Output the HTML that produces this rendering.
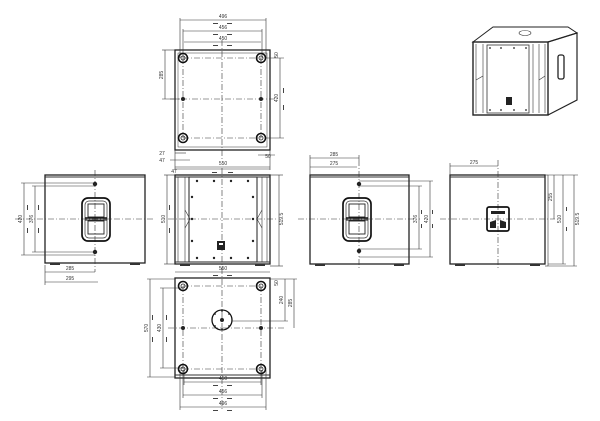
<!DOCTYPE html>
<html><head><meta charset="utf-8"><style>
html,body{margin:0;padding:0;background:#fff;}
svg{display:block}
text{font-family:"Liberation Sans",sans-serif;font-size:5px;fill:#333}
</style></head><body>
<svg width="600" height="421" viewBox="0 0 600 421" xmlns="http://www.w3.org/2000/svg">
<defs>
<g id="hole"><circle r="4.5" fill="none" stroke="#111" stroke-width="1.6"/><circle r="2" fill="none" stroke="#222" stroke-width="0.8"/></g>
<g id="handle">
<rect x="-14" y="-21" width="28" height="43" rx="6" fill="none" stroke="#111" stroke-width="1.7"/>
<rect x="-11" y="-18" width="22" height="37" rx="4" fill="none" stroke="#333" stroke-width="0.7"/>
<rect x="-8" y="-15" width="16" height="13" fill="none" stroke="#222" stroke-width="0.9"/>
<rect x="-8" y="2" width="16" height="13" fill="none" stroke="#222" stroke-width="0.9"/>
<line x1="-11" y1="-1" x2="11" y2="-1" stroke="#111" stroke-width="1.5"/>
<line x1="-11" y1="1" x2="11" y2="1" stroke="#111" stroke-width="1"/>
</g>
</defs>
<g fill="none" stroke="#333" stroke-width="0.6">

<!-- TOP VIEW -->
<rect x="175" y="50" width="95" height="100" stroke-width="1.3" stroke="#222"/>
<rect x="178" y="53" width="89" height="94" stroke-width="0.5"/>
<line x1="222" y1="40" x2="222" y2="160" stroke-dasharray="6,2,1,2"/>
<line x1="170" y1="99" x2="275" y2="99" stroke-dasharray="6,2,1,2"/>
<line x1="183" y1="58" x2="261" y2="58" stroke-dasharray="6,2,1,2"/>
<line x1="183" y1="138" x2="261" y2="138" stroke-dasharray="6,2,1,2"/>
<line x1="183" y1="58" x2="183" y2="138" stroke-dasharray="6,2,1,2"/>
<line x1="261" y1="58" x2="261" y2="138" stroke-dasharray="6,2,1,2"/>
<line x1="180" y1="20" x2="266" y2="20"/><line x1="180" y1="18" x2="180" y2="58"/><line x1="266" y1="18" x2="266" y2="58"/>
<line x1="183" y1="31" x2="262" y2="31"/><line x1="183" y1="29" x2="183" y2="58"/><line x1="262" y1="29" x2="262" y2="58"/>
<line x1="184" y1="42" x2="261" y2="42"/>
<line x1="165" y1="50" x2="165" y2="99"/><line x1="162" y1="50" x2="175" y2="50"/><line x1="162" y1="99" x2="180" y2="99"/>
<line x1="280" y1="58" x2="280" y2="138"/><line x1="265" y1="58" x2="284" y2="58"/><line x1="265" y1="138" x2="284" y2="138"/>
<line x1="175" y1="167" x2="270" y2="167"/><line x1="175" y1="150" x2="175" y2="170"/><line x1="270" y1="150" x2="270" y2="170"/>
<line x1="175" y1="153" x2="186" y2="153"/><line x1="170" y1="160" x2="190" y2="160"/>
<line x1="258" y1="155" x2="275" y2="155"/>

<!-- FRONT VIEW LEFT -->
<rect x="45" y="175" width="100" height="88" stroke-width="1.3" stroke="#222"/>
<line x1="45" y1="177" x2="145" y2="177" stroke-width="1"/>
<line x1="95" y1="170" x2="95" y2="272" stroke-dasharray="6,2,1,2"/>
<line x1="15" y1="219" x2="155" y2="219" stroke-dasharray="6,2,1,2"/>
<line x1="24" y1="183" x2="24" y2="255"/><line x1="21" y1="183" x2="95" y2="183"/><line x1="21" y1="255" x2="95" y2="255"/>
<line x1="35" y1="186" x2="35" y2="252"/><line x1="32" y1="186" x2="95" y2="186"/><line x1="32" y1="252" x2="95" y2="252"/>
<line x1="45" y1="272" x2="95" y2="272"/><line x1="45" y1="265" x2="45" y2="285"/>
<line x1="45" y1="282" x2="98" y2="282"/>

<!-- SIDE VIEW MIDDLE -->
<rect x="175" y="175" width="95" height="89" stroke-width="1.3" stroke="#222"/>
<line x1="175" y1="177" x2="270" y2="177" stroke-width="1"/>
<line x1="175" y1="262" x2="270" y2="262" stroke-width="1"/>
<line x1="178" y1="177" x2="178" y2="262"/><line x1="185" y1="177" x2="185" y2="262"/>
<rect x="189" y="177" width="68" height="85" stroke-width="1.1"/>
<line x1="262" y1="177" x2="262" y2="262"/><line x1="267" y1="177" x2="267" y2="262"/>
<line x1="222" y1="168" x2="222" y2="270" stroke-dasharray="6,2,1,2"/>
<line x1="168" y1="219" x2="278" y2="219" stroke-dasharray="6,2,1,2"/>
<line x1="167" y1="175" x2="167" y2="264"/><line x1="164" y1="175" x2="175" y2="175"/><line x1="164" y1="264" x2="175" y2="264"/>
<line x1="279" y1="175" x2="279" y2="266"/><line x1="270" y1="175" x2="283" y2="175"/><line x1="270" y1="266" x2="283" y2="266"/>
<line x1="175" y1="169" x2="270" y2="169"/>
<path d="M185 210 L190 219 L185 228 M262 210 L257 219 L262 228"/>

<!-- RIGHT SIDE VIEW -->
<rect x="310" y="175" width="99" height="89" stroke-width="1.3" stroke="#222"/>
<line x1="310" y1="177" x2="409" y2="177" stroke-width="1"/>
<line x1="359" y1="160" x2="359" y2="270" stroke-dasharray="6,2,1,2"/>
<line x1="298" y1="219" x2="420" y2="219" stroke-dasharray="6,2,1,2"/>
<line x1="310" y1="158" x2="359" y2="158"/><line x1="310" y1="155" x2="310" y2="175"/><line x1="359" y1="155" x2="359" y2="160"/>
<line x1="310" y1="167" x2="357" y2="167"/>
<line x1="419" y1="186" x2="419" y2="249"/><line x1="359" y1="186" x2="422" y2="186"/><line x1="359" y1="249" x2="422" y2="249"/>
<line x1="430" y1="181" x2="430" y2="257"/><line x1="359" y1="181" x2="433" y2="181"/><line x1="359" y1="257" x2="433" y2="257"/>

<!-- BACK VIEW -->
<rect x="450" y="175" width="95" height="89" stroke-width="1.3" stroke="#222"/>
<line x1="450" y1="177" x2="545" y2="177" stroke-width="1"/>
<line x1="545" y1="175" x2="548" y2="175"/><line x1="548" y1="175" x2="548" y2="266"/><line x1="545" y1="266" x2="548" y2="266"/>
<line x1="498" y1="160" x2="498" y2="270" stroke-dasharray="6,2,1,2"/>
<line x1="440" y1="219" x2="555" y2="219" stroke-dasharray="6,2,1,2"/>
<line x1="450" y1="166" x2="498" y2="166"/><line x1="450" y1="163" x2="450" y2="175"/>
<line x1="554" y1="175" x2="554" y2="219"/><line x1="548" y1="175" x2="578" y2="175"/>
<line x1="563" y1="175" x2="563" y2="264"/><line x1="548" y1="264" x2="566" y2="264"/>
<line x1="574" y1="175" x2="574" y2="266"/><line x1="548" y1="266" x2="577" y2="266"/>
<rect x="487" y="207" width="22" height="24" rx="2" stroke="#111" stroke-width="1.7"/>

<!-- BOTTOM VIEW -->
<rect x="175" y="278" width="95" height="100" stroke-width="1.3" stroke="#222"/>
<line x1="175" y1="375" x2="270" y2="375" stroke-width="1"/>
<line x1="222" y1="268" x2="222" y2="410" stroke-dasharray="6,2,1,2"/>
<line x1="168" y1="328" x2="285" y2="328" stroke-dasharray="6,2,1,2"/>
<line x1="183" y1="286" x2="261" y2="286" stroke-dasharray="6,2,1,2"/>
<line x1="183" y1="369" x2="261" y2="369" stroke-dasharray="6,2,1,2"/>
<line x1="183" y1="286" x2="183" y2="369" stroke-dasharray="6,2,1,2"/>
<line x1="261" y1="286" x2="261" y2="369" stroke-dasharray="6,2,1,2"/>
<circle cx="222" cy="320" r="10" stroke="#111" stroke-width="1.3"/>
<line x1="175" y1="272" x2="270" y2="272"/>
<line x1="150" y1="279" x2="150" y2="377"/><line x1="147" y1="279" x2="175" y2="279"/><line x1="147" y1="377" x2="175" y2="377"/>
<line x1="163" y1="288" x2="163" y2="368"/><line x1="160" y1="288" x2="183" y2="288"/><line x1="160" y1="368" x2="183" y2="368"/>
<line x1="285" y1="279" x2="285" y2="321"/><line x1="232" y1="321" x2="288" y2="321"/>
<line x1="294" y1="279" x2="294" y2="328"/><line x1="270" y1="279" x2="297" y2="279"/>
<line x1="184" y1="382" x2="261" y2="382"/><line x1="184" y1="370" x2="184" y2="385"/><line x1="261" y1="370" x2="261" y2="385"/>
<line x1="183" y1="395" x2="262" y2="395"/><line x1="183" y1="370" x2="183" y2="398"/><line x1="262" y1="370" x2="262" y2="398"/>
<line x1="180" y1="407" x2="266" y2="407"/><line x1="180" y1="370" x2="180" y2="410"/><line x1="266" y1="370" x2="266" y2="410"/>

<!-- 3D VIEW -->
<path d="M473 42 L493 27 L568 27 L577 33 L548 42 Z" stroke-width="1" stroke="#222"/>
<rect x="473" y="42" width="75" height="73" stroke-width="1.4" stroke="#222"/>
<path d="M548 42 L577 33 L577 100 L548 115" stroke-width="1.2" stroke="#222"/>
<rect x="487" y="45" width="42" height="68" stroke-width="0.8"/>
<line x1="476" y1="44" x2="476" y2="113"/><line x1="483" y1="44" x2="483" y2="113"/>
<line x1="533" y1="44" x2="533" y2="113"/><line x1="539" y1="44" x2="539" y2="113"/><line x1="545" y1="44" x2="545" y2="113"/>
<line x1="476" y1="80" x2="483" y2="76"/><line x1="539" y1="80" x2="545" y2="76"/>
<ellipse cx="525" cy="33" rx="6" ry="2.5"/>
<rect x="558" y="55" width="6" height="24" rx="2" stroke-width="1.3" stroke="#222"/>
</g>

<!-- holes -->
<use href="#hole" x="183" y="58"/><use href="#hole" x="261" y="58"/>
<use href="#hole" x="183" y="138"/><use href="#hole" x="261" y="138"/>
<circle cx="183" cy="99" r="2" fill="#222"/><circle cx="261" cy="99" r="2" fill="#222"/>
<use href="#hole" x="183" y="286"/><use href="#hole" x="261" y="286"/>
<use href="#hole" x="183" y="369"/><use href="#hole" x="261" y="369"/>
<circle cx="183" cy="328" r="2" fill="#222"/><circle cx="261" cy="328" r="2" fill="#222"/>
<circle cx="222" cy="320" r="2" fill="#222"/>
<g fill="#222"><circle cx="215" cy="314" r="0.9"/><circle cx="229" cy="314" r="0.9"/><circle cx="215" cy="326" r="0.9"/><circle cx="229" cy="326" r="0.9"/><circle cx="222" cy="311" r="0.9"/><circle cx="222" cy="329" r="0.9"/></g>
<use href="#handle" x="96" y="219"/><use href="#handle" x="357" y="219"/>
<circle cx="95" cy="184" r="2.2" fill="#222"/><circle cx="95" cy="252" r="2.2" fill="#222"/>
<circle cx="359" cy="184" r="2.2" fill="#222"/><circle cx="359" cy="251" r="2.2" fill="#222"/>
<!-- middle dots -->
<g fill="#222">
<circle cx="197" cy="181" r="1.2"/><circle cx="214" cy="181" r="1.2"/><circle cx="231" cy="181" r="1.2"/><circle cx="248" cy="181" r="1.2"/>
<circle cx="197" cy="258" r="1.2"/><circle cx="214" cy="258" r="1.2"/><circle cx="231" cy="258" r="1.2"/><circle cx="248" cy="258" r="1.2"/>
<circle cx="192" cy="197" r="1.2"/><circle cx="192" cy="219" r="1.2"/><circle cx="192" cy="241" r="1.2"/>
<circle cx="253" cy="197" r="1.2"/><circle cx="253" cy="219" r="1.2"/><circle cx="253" cy="241" r="1.2"/>
<rect x="217" y="241" width="8" height="9"/>
<rect x="506" y="97" width="6" height="8"/>
<circle cx="490" cy="48" r="0.9"/><circle cx="501" cy="48" r="0.9"/><circle cx="514" cy="48" r="0.9"/><circle cx="526" cy="48" r="0.9"/>
<circle cx="490" cy="110" r="0.9"/><circle cx="501" cy="110" r="0.9"/><circle cx="514" cy="110" r="0.9"/><circle cx="526" cy="110" r="0.9"/>
</g>
<rect x="219" y="243" width="4" height="2" fill="#fff"/>
<!-- back panel -->
<rect x="491" y="211" width="14" height="3" fill="#222"/>
<path d="M490 222 L496 220 L496 228 L490 228Z M506 222 L500 220 L500 228 L506 228Z" fill="#222"/>
<!-- feet -->
<g fill="#333">
<rect x="50" y="263" width="10" height="2"/><rect x="130" y="263" width="10" height="2"/>
<rect x="180" y="264" width="10" height="2"/><rect x="255" y="264" width="10" height="2"/>
<rect x="315" y="264" width="10" height="2"/><rect x="394" y="264" width="10" height="2"/>
<rect x="455" y="264" width="10" height="2"/><rect x="530" y="264" width="10" height="2"/>
</g>

<!-- labels -->
<g text-anchor="middle">
<text x="223" y="18">496</text><text x="223" y="29">456</text><text x="223" y="40">450</text>
<text x="223" y="165">550</text>
<text x="223" y="270">550</text>
<text x="223" y="380">450</text><text x="223" y="393">456</text><text x="223" y="405">496</text>
<text x="70" y="270">285</text><text x="70" y="280">295</text>
<text x="334" y="156">285</text><text x="334" y="165">275</text>
<text x="474" y="164">275</text>
<text x="174" y="173" font-size="4">47</text>
<text x="162" y="155" font-size="4">27</text><text x="162" y="162" font-size="4">47</text>
<text x="268" y="158" font-size="4">50</text>
</g>
<g text-anchor="middle" font-size="5">
<text transform="translate(163 75) rotate(-90)">285</text>
<text transform="translate(278 98) rotate(-90)">420</text>
<text transform="translate(278 55) rotate(-90)">50</text>
<text transform="translate(22 219) rotate(-90)">420</text>
<text transform="translate(33 219) rotate(-90)">376</text>
<text transform="translate(165 219) rotate(-90)">510</text>
<text transform="translate(283 219) rotate(-90)">519.5</text>
<text transform="translate(417 219) rotate(-90)">376</text>
<text transform="translate(428 219) rotate(-90)">420</text>
<text transform="translate(552 197) rotate(-90)">255</text>
<text transform="translate(561 219) rotate(-90)">510</text>
<text transform="translate(579 219) rotate(-90)">519.5</text>
<text transform="translate(148 328) rotate(-90)">570</text>
<text transform="translate(161 328) rotate(-90)">430</text>
<text transform="translate(283 300) rotate(-90)">240</text>
<text transform="translate(292 303) rotate(-90)">285</text>
<text transform="translate(278 283) rotate(-90)">50</text>
</g>
<!-- equal marks -->
<g fill="#444">
<rect x="213" y="23" width="5" height="1"/><rect x="227" y="23" width="5" height="1"/>
<rect x="213" y="34" width="5" height="1"/><rect x="227" y="34" width="5" height="1"/>
<rect x="213" y="45" width="5" height="1"/><rect x="227" y="45" width="5" height="1"/>
<rect x="213" y="275" width="5" height="1"/><rect x="227" y="275" width="5" height="1"/>
<rect x="213" y="385" width="5" height="1"/><rect x="227" y="385" width="5" height="1"/>
<rect x="213" y="398" width="5" height="1"/><rect x="227" y="398" width="5" height="1"/>
<rect x="213" y="410" width="5" height="1"/><rect x="227" y="410" width="5" height="1"/>
<rect x="212" y="172" width="5" height="1"/><rect x="228" y="172" width="5" height="1"/>
<rect x="283" y="88" width="1" height="5"/><rect x="283" y="105" width="1" height="5"/>
<rect x="27" y="205" width="1" height="5"/><rect x="27" y="228" width="1" height="5"/>
<rect x="38" y="205" width="1" height="5"/><rect x="38" y="228" width="1" height="5"/>
<rect x="169" y="205" width="1" height="5"/><rect x="169" y="228" width="1" height="5"/>
<rect x="421" y="210" width="1" height="4"/><rect x="421" y="224" width="1" height="4"/>
<rect x="432" y="210" width="1" height="4"/><rect x="432" y="224" width="1" height="4"/>
<rect x="566" y="207" width="1" height="4"/><rect x="566" y="227" width="1" height="4"/>
<rect x="152" y="315" width="1" height="5"/><rect x="152" y="337" width="1" height="5"/>
<rect x="166" y="315" width="1" height="5"/><rect x="166" y="337" width="1" height="5"/>
</g>
</svg>
</body></html>
